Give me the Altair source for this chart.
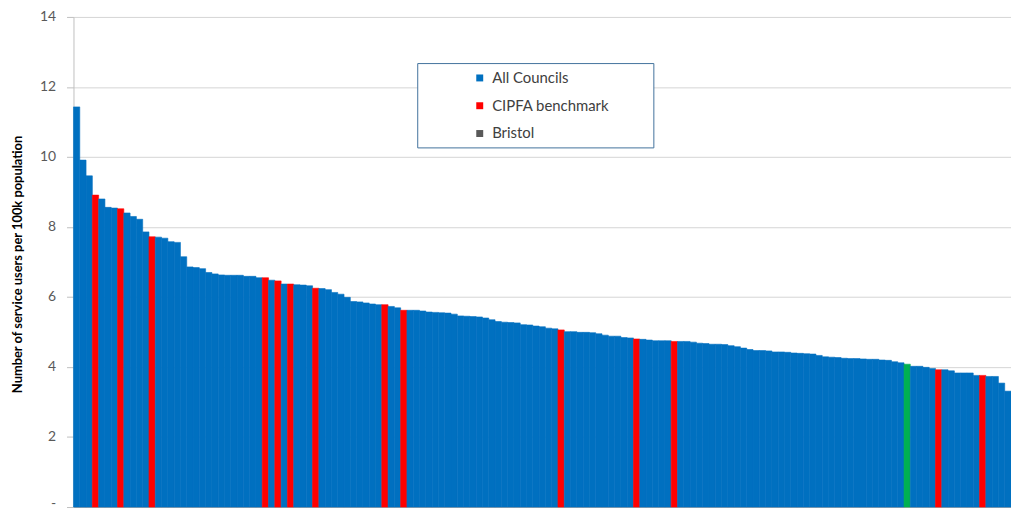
import altair as alt
import pandas as pd

# Values (sorted descending, one per council)
values = [
    11.43, 9.91, 9.46, 8.91, 8.80, 8.56, 8.54, 8.52, 8.40, 8.30,
    8.22, 7.86, 7.72, 7.71, 7.68, 7.58, 7.56, 7.15, 6.86, 6.84,
    6.81, 6.70, 6.66, 6.63, 6.62, 6.62, 6.62, 6.59, 6.59, 6.55,
    6.55, 6.48, 6.46, 6.37, 6.37, 6.35, 6.34, 6.32, 6.25, 6.24,
    6.21, 6.13, 6.08, 5.99, 5.87, 5.86, 5.83, 5.80, 5.78, 5.78,
    5.73, 5.69, 5.62, 5.62, 5.62, 5.60, 5.57, 5.56, 5.55, 5.54,
    5.51, 5.46, 5.45, 5.44, 5.43, 5.40, 5.35, 5.30, 5.28, 5.27,
    5.26, 5.21, 5.20, 5.17, 5.15, 5.11, 5.09, 5.06, 5.01, 5.01,
    4.99, 4.99, 4.98, 4.95, 4.91, 4.88, 4.88, 4.84, 4.83, 4.80,
    4.79, 4.77, 4.75, 4.75, 4.75, 4.73, 4.73, 4.73, 4.71, 4.68,
    4.67, 4.65, 4.65, 4.64, 4.61, 4.58, 4.54, 4.50, 4.47, 4.47,
    4.46, 4.43, 4.43, 4.42, 4.40, 4.39, 4.38, 4.37, 4.33, 4.29,
    4.28, 4.27, 4.25, 4.24, 4.24, 4.23, 4.22, 4.22, 4.20, 4.19,
    4.15, 4.12, 4.08, 4.02, 4.02, 3.99, 3.96, 3.92, 3.92, 3.89,
    3.83, 3.83, 3.83, 3.76, 3.76, 3.73, 3.73, 3.54, 3.31,
]
cipfa_positions = [3, 7, 12, 30, 32, 34, 38, 49, 52, 77, 89, 95, 137, 144]
bristol_positions = [132]

group_codes = ["all", "cipfa", "bristol"]
bar_colors = ["#0070C0", "#FF0000", "#00B050"]
legend_names = ["All Councils", "CIPFA benchmark", "Bristol"]
legend_colors = ["#0070C0", "#FF0000", "#595959"]
y_ticks = [0, 2, 4, 6, 8, 10, 12, 14]


def group_of(i):
    if i in bristol_positions:
        return "bristol"
    if i in cipfa_positions:
        return "cipfa"
    return "all"


df = pd.DataFrame({
    "idx": list(range(len(values))),
    "value": values,
    "group": [group_of(i) for i in range(len(values))],
})

FONT = "Lato"
PLOT_H = 494

bars = alt.Chart(df).mark_bar(strokeWidth=0.6).encode(
    x=alt.X(
        "idx:O",
        scale=alt.Scale(paddingInner=0, paddingOuter=0),
        axis=alt.Axis(labels=False, ticks=False, title=None, domainColor="#a6a6a6", grid=False),
    ),
    y=alt.Y(
        "value:Q",
        scale=alt.Scale(domain=[0, 14], nice=False),
        axis=alt.Axis(
            values=y_ticks,
            title="Number of service users per 100k population",
            titleFont=FONT, titleFontSize=13, titleFontWeight="bold", titleColor="#000000",
            titleAngle=270, titleX=-56, titleY=PLOT_H / 2 + 2, titleAlign="center", titleBaseline="middle",
            labelFont=FONT, labelFontSize=14, labelColor="#595959", labelPadding=11,
            labelExpr="datum.value == 0 ? '-' : datum.label",
            labelBaseline=alt.condition("datum.value == 0", alt.value("alphabetic"), alt.value("middle")),
            tickSize=7, tickColor="#bfbfbf", domainColor="#bfbfbf",
            grid=True, gridColor="#d4d4d4",
        ),
    ),
    color=alt.Color(
        "group:N",
        scale=alt.Scale(domain=group_codes, range=bar_colors),
        legend=None,
    ),
    stroke=alt.Stroke(
        "group:N",
        scale=alt.Scale(domain=group_codes, range=bar_colors),
        legend=None,
    ),
)

box = alt.Chart(pd.DataFrame({"k": [0]})).mark_rect(
    fill="white", stroke="#41719C", strokeWidth=1
).encode(
    x=alt.value(347), x2=alt.value(585), y=alt.value(47), y2=alt.value(132)
)

legend_layer = alt.Chart(pd.DataFrame({"name": legend_names})).mark_square(size=49, opacity=1).encode(
    x=alt.value(-500),
    y=alt.value(-500),
    fill=alt.Fill(
        "name:N",
        scale=alt.Scale(domain=legend_names, range=legend_colors),
        legend=alt.Legend(
            title=None, orient="none", legendX=402, legendY=54, zindex=2,
            labelFont=FONT, labelFontSize=15, labelColor="#404040",
            symbolType="square", symbolSize=49, symbolStrokeWidth=0, symbolOpacity=1,
            rowPadding=12, labelOffset=5, padding=0,
        ),
    ),
)

chart = alt.layer(bars, box, legend_layer).properties(
    width=945, height=PLOT_H,
    autosize=alt.AutoSizeParams(type="none"),
    padding={"left": 66, "top": 7, "right": 0, "bottom": 3},
).configure_view(stroke=None)

chart.save("out.html", embed_options={"renderer": "svg", "actions": False})
